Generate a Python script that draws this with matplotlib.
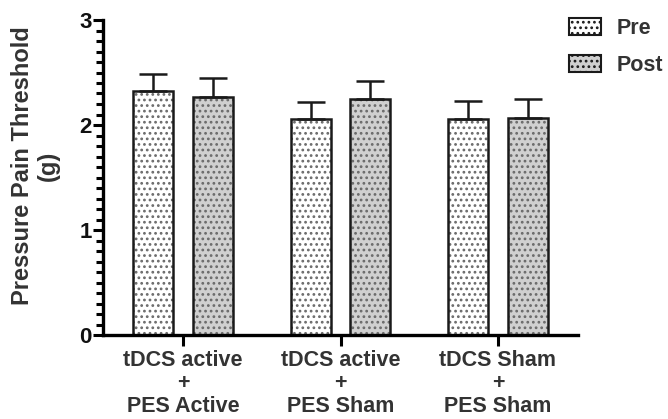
import matplotlib
matplotlib.use("Agg")
import matplotlib.pyplot as plt
from matplotlib.ticker import MultipleLocator
import numpy as np

plt.rcParams['font.family'] = ['Liberation Sans', 'DejaVu Sans']
plt.rcParams['hatch.linewidth'] = 1.2

categories = ["tDCS active\n+\nPES Active", "tDCS active\n+\nPES Sham", "tDCS Sham\n+\nPES Sham"]
series = ["Pre", "Post"]
pre_mean = [2.32, 2.06, 2.06]
pre_err = [0.17, 0.16, 0.17]
post_mean = [2.27, 2.25, 2.07]
post_err = [0.18, 0.17, 0.18]

txt = '#333333'
edge = '#1a1a1a'
fig = plt.figure(figsize=(6.68, 4.19), dpi=100)
ax = fig.add_axes([103/668, 1-335/419, 475/668, 315/419])

x = np.arange(len(categories))
w = 0.254
off = 0.189
handles = []
for xs, m, e, fc, lab in [(x - off, pre_mean, pre_err, 'white', series[0]),
                          (x + off, post_mean, post_err, '#d0d0d0', series[1])]:
    ax.bar(xs, m, width=w, color=fc, edgecolor='#6a6a6a', linewidth=0,
           hatch='...', zorder=2)
    ax.bar(xs, m, width=w, fill=False, edgecolor=edge, linewidth=1.8, zorder=2.5)
    ax.errorbar(xs, m, yerr=[np.zeros(len(e)), e], fmt='none', ecolor=edge,
                elinewidth=1.8, capsize=10, capthick=1.8, zorder=3)
    handles.append(plt.Rectangle((0, 0), 1, 1, facecolor=fc, edgecolor=edge,
                                 linewidth=1.5, hatch='...', label=lab))

ax.set_xlim(-0.508, 2.508)
ax.set_ylim(0, 3)
ax.yaxis.set_major_locator(MultipleLocator(1))
ax.yaxis.set_minor_locator(MultipleLocator(0.1))
ax.set_xticks(x)
ax.set_xticklabels(categories, fontsize=15.5, fontweight='bold', color=txt, linespacing=1.13)
ax.tick_params(axis='y', which='major', length=7, width=2.2, labelsize=16, labelcolor='#111111', pad=1)
ax.tick_params(axis='y', which='minor', length=5, width=2.2)
ax.tick_params(axis='x', which='major', length=8, width=2.2, pad=3)
for lbl in ax.get_yticklabels():
    lbl.set_fontweight('bold')
for s in ['top', 'right']:
    ax.spines[s].set_visible(False)
for s in ['left', 'bottom']:
    ax.spines[s].set_linewidth(2.4)
ax.set_ylabel("Pressure Pain Threshold\n(g)", fontsize=17, fontweight='bold', color=txt)
ax.yaxis.set_label_coords(-0.090, 0.537)

leg = fig.legend(handles=handles, loc='upper left', bbox_to_anchor=(569/668, 1-18/419), frameon=False,
                 prop={'weight': 'bold', 'size': 15.5}, handlelength=1.5, handleheight=0.85,
                 labelspacing=0.75, handletextpad=0.7, borderpad=0, borderaxespad=0)
for t in leg.get_texts():
    t.set_color(txt)

fig.savefig('out.png', dpi=100)
